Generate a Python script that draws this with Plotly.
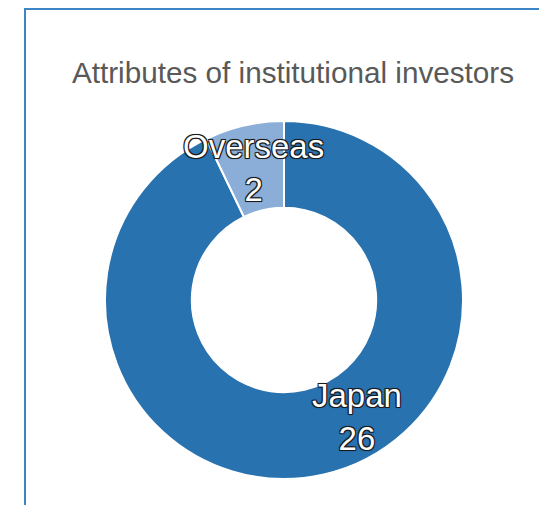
import plotly.graph_objects as go

labels = ["Japan", "Overseas"]
values = [26, 2]
colors = ["#2872b0", "#8aaed8"]
title_text = "Attributes of institutional investors"

W, H = 547, 505
OFF = 8  # page body margin of the browser
FONT = "Liberation Sans, Arial, sans-serif"


def px(x):
    return (x - OFF) / W


def py(y):
    return 1 - (y - OFF) / H


CX, CY, R = 284, 300, 179

fig = go.Figure()
fig.add_trace(go.Pie(
    labels=labels,
    values=values,
    sort=False,
    direction="clockwise",
    rotation=0,
    hole=0.515,
    marker=dict(colors=colors, line=dict(color="white", width=2)),
    textinfo="none",
    hoverinfo="label+value",
    showlegend=False,
    domain=dict(x=[px(CX - R), px(CX + R)],
                y=[py(CY + R), py(CY - R)]),
))

outline = ("-1px -1px 0 #1a1a1a, 1px -1px 0 #1a1a1a, -1px 1px 0 #1a1a1a, "
           "1px 1px 0 #1a1a1a, 0 0 2px #000")
label_pos = {"Japan": (357, 417), "Overseas": (253, 168)}
annotations = []
for lab, val in zip(labels, values):
    x, y = label_pos[lab]
    annotations.append(dict(
        text=f"{lab}<br>{val}", x=px(x), y=py(y), xref="paper", yref="paper",
        xanchor="center", yanchor="middle", showarrow=False, align="center",
        font=dict(family=FONT, size=33, color="white", shadow=outline),
    ))

fig.update_layout(
    width=W, height=H, autosize=False,
    margin=dict(l=0, r=0, t=0, b=0),
    paper_bgcolor="white", plot_bgcolor="white",
    title=dict(text=title_text, x=px(293), y=py(73), xanchor="center",
               yanchor="middle", xref="paper", yref="paper",
               font=dict(family=FONT, size=29.7, color="#595959")),
    annotations=annotations,
    shapes=[
        dict(type="line", xref="paper", yref="paper", x0=px(25), x1=px(25),
             y0=-0.05, y1=py(8.5), line=dict(color="#3d85c6", width=2)),
        dict(type="line", xref="paper", yref="paper", x0=px(24), x1=1.05,
             y0=py(9), y1=py(9), line=dict(color="#3d85c6", width=2)),
    ],
)

fig.write_html("out.html")
